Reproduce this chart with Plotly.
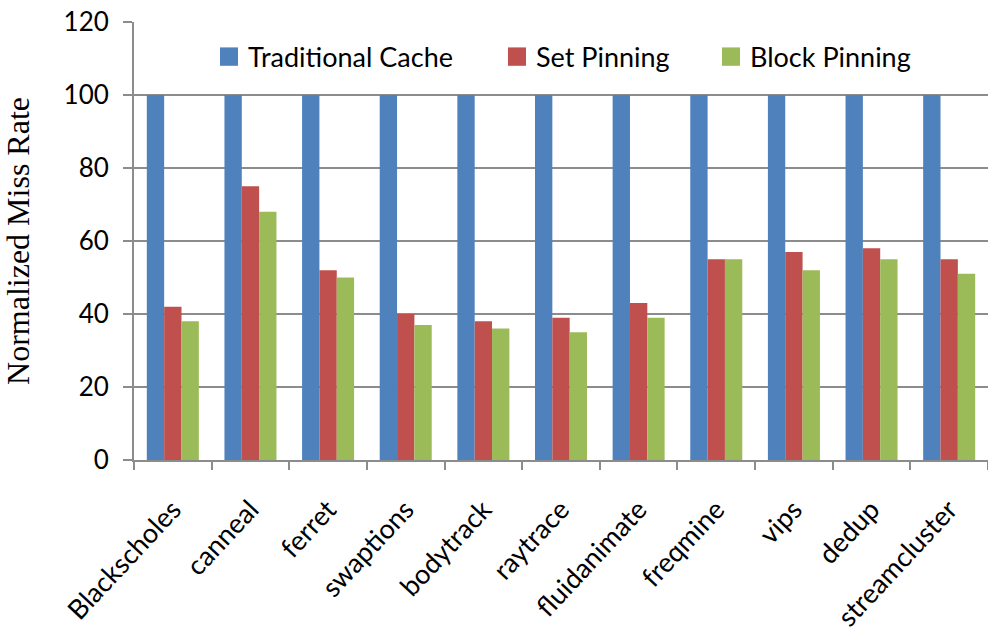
import plotly.graph_objects as go

benchmarks = ["Blackscholes", "canneal", "ferret", "swaptions", "bodytrack",
              "raytrace", "fluidanimate", "freqmine", "vips", "dedup", "streamcluster"]
traditional_cache = [100, 100, 100, 100, 100, 100, 100, 100, 100, 100, 100]
set_pinning = [42, 75, 52, 40, 38, 39, 43, 55, 57, 58, 55]
block_pinning = [38, 68, 50, 37, 36, 35, 39, 55, 52, 55, 51]

series_names = ["Traditional Cache", "Set Pinning", "Block Pinning"]
series_colors = ["#4F81BD", "#C0504D", "#9BBB59"]
y_ticks = [0, 20, 40, 60, 80, 100, 120]

sans = "Lato, 'Open Sans', sans-serif"
serif = "'Liberation Serif', 'DejaVu Serif', serif"
grid_grey = "#8c8c8c"

fig = go.Figure()
for name, values, color in zip(series_names,
                               [traditional_cache, set_pinning, block_pinning],
                               series_colors):
    fig.add_trace(go.Bar(name=name, x=benchmarks, y=values, showlegend=False,
                         marker=dict(color=color, line=dict(width=0))))

# Legend row drawn inside the plot area: a square swatch followed by the label
legend_y = 0.921
legend_swatch_x = [0.1007, 0.4379, 0.6885]
swatch_w = 0.0211
swatch_h = 0.042
for name, color, x0 in zip(series_names, series_colors, legend_swatch_x):
    fig.add_shape(type="rect", xref="paper", yref="paper",
                  x0=x0, x1=x0 + swatch_w,
                  y0=legend_y - swatch_h / 2, y1=legend_y + swatch_h / 2,
                  fillcolor=color, line=dict(width=0))
    fig.add_annotation(xref="paper", yref="paper", x=x0 + swatch_w + 0.0095,
                       y=legend_y, text=name, showarrow=False,
                       xanchor="left", yanchor="middle",
                       font=dict(family=sans, size=27, color="#000000"))

fig.update_layout(
    width=988, height=639,
    margin=dict(l=134, r=0, t=22, b=179),
    paper_bgcolor="white", plot_bgcolor="white",
    barmode="group", bargap=0.33, bargroupgap=0,
    font=dict(family=sans, size=22, color="#000000"),
    showlegend=False,
    xaxis=dict(
        type="category", tickson="boundaries", ticks="outside", ticklen=8,
        tickcolor=grid_grey, tickwidth=2, showline=True, linecolor=grid_grey,
        linewidth=2, showgrid=False, tickangle=-47, ticklabelstandoff=21,
        tickfont=dict(family=sans, size=27, color="#000000"),
    ),
    yaxis=dict(
        range=[0, 120], tickvals=y_ticks, ticks="outside", ticklen=9,
        tickcolor=grid_grey, tickwidth=2, showline=True, linecolor=grid_grey,
        linewidth=2, showgrid=True, gridcolor=grid_grey, gridwidth=2,
        zeroline=False, ticklabelstandoff=9,
        tickfont=dict(family=sans, size=26, color="#000000"),
        title=dict(text="Normalized Miss Rate",
                   font=dict(family=serif, size=32, color="#000000"),
                   standoff=28),
    ),
)

fig.write_html("out.html")
